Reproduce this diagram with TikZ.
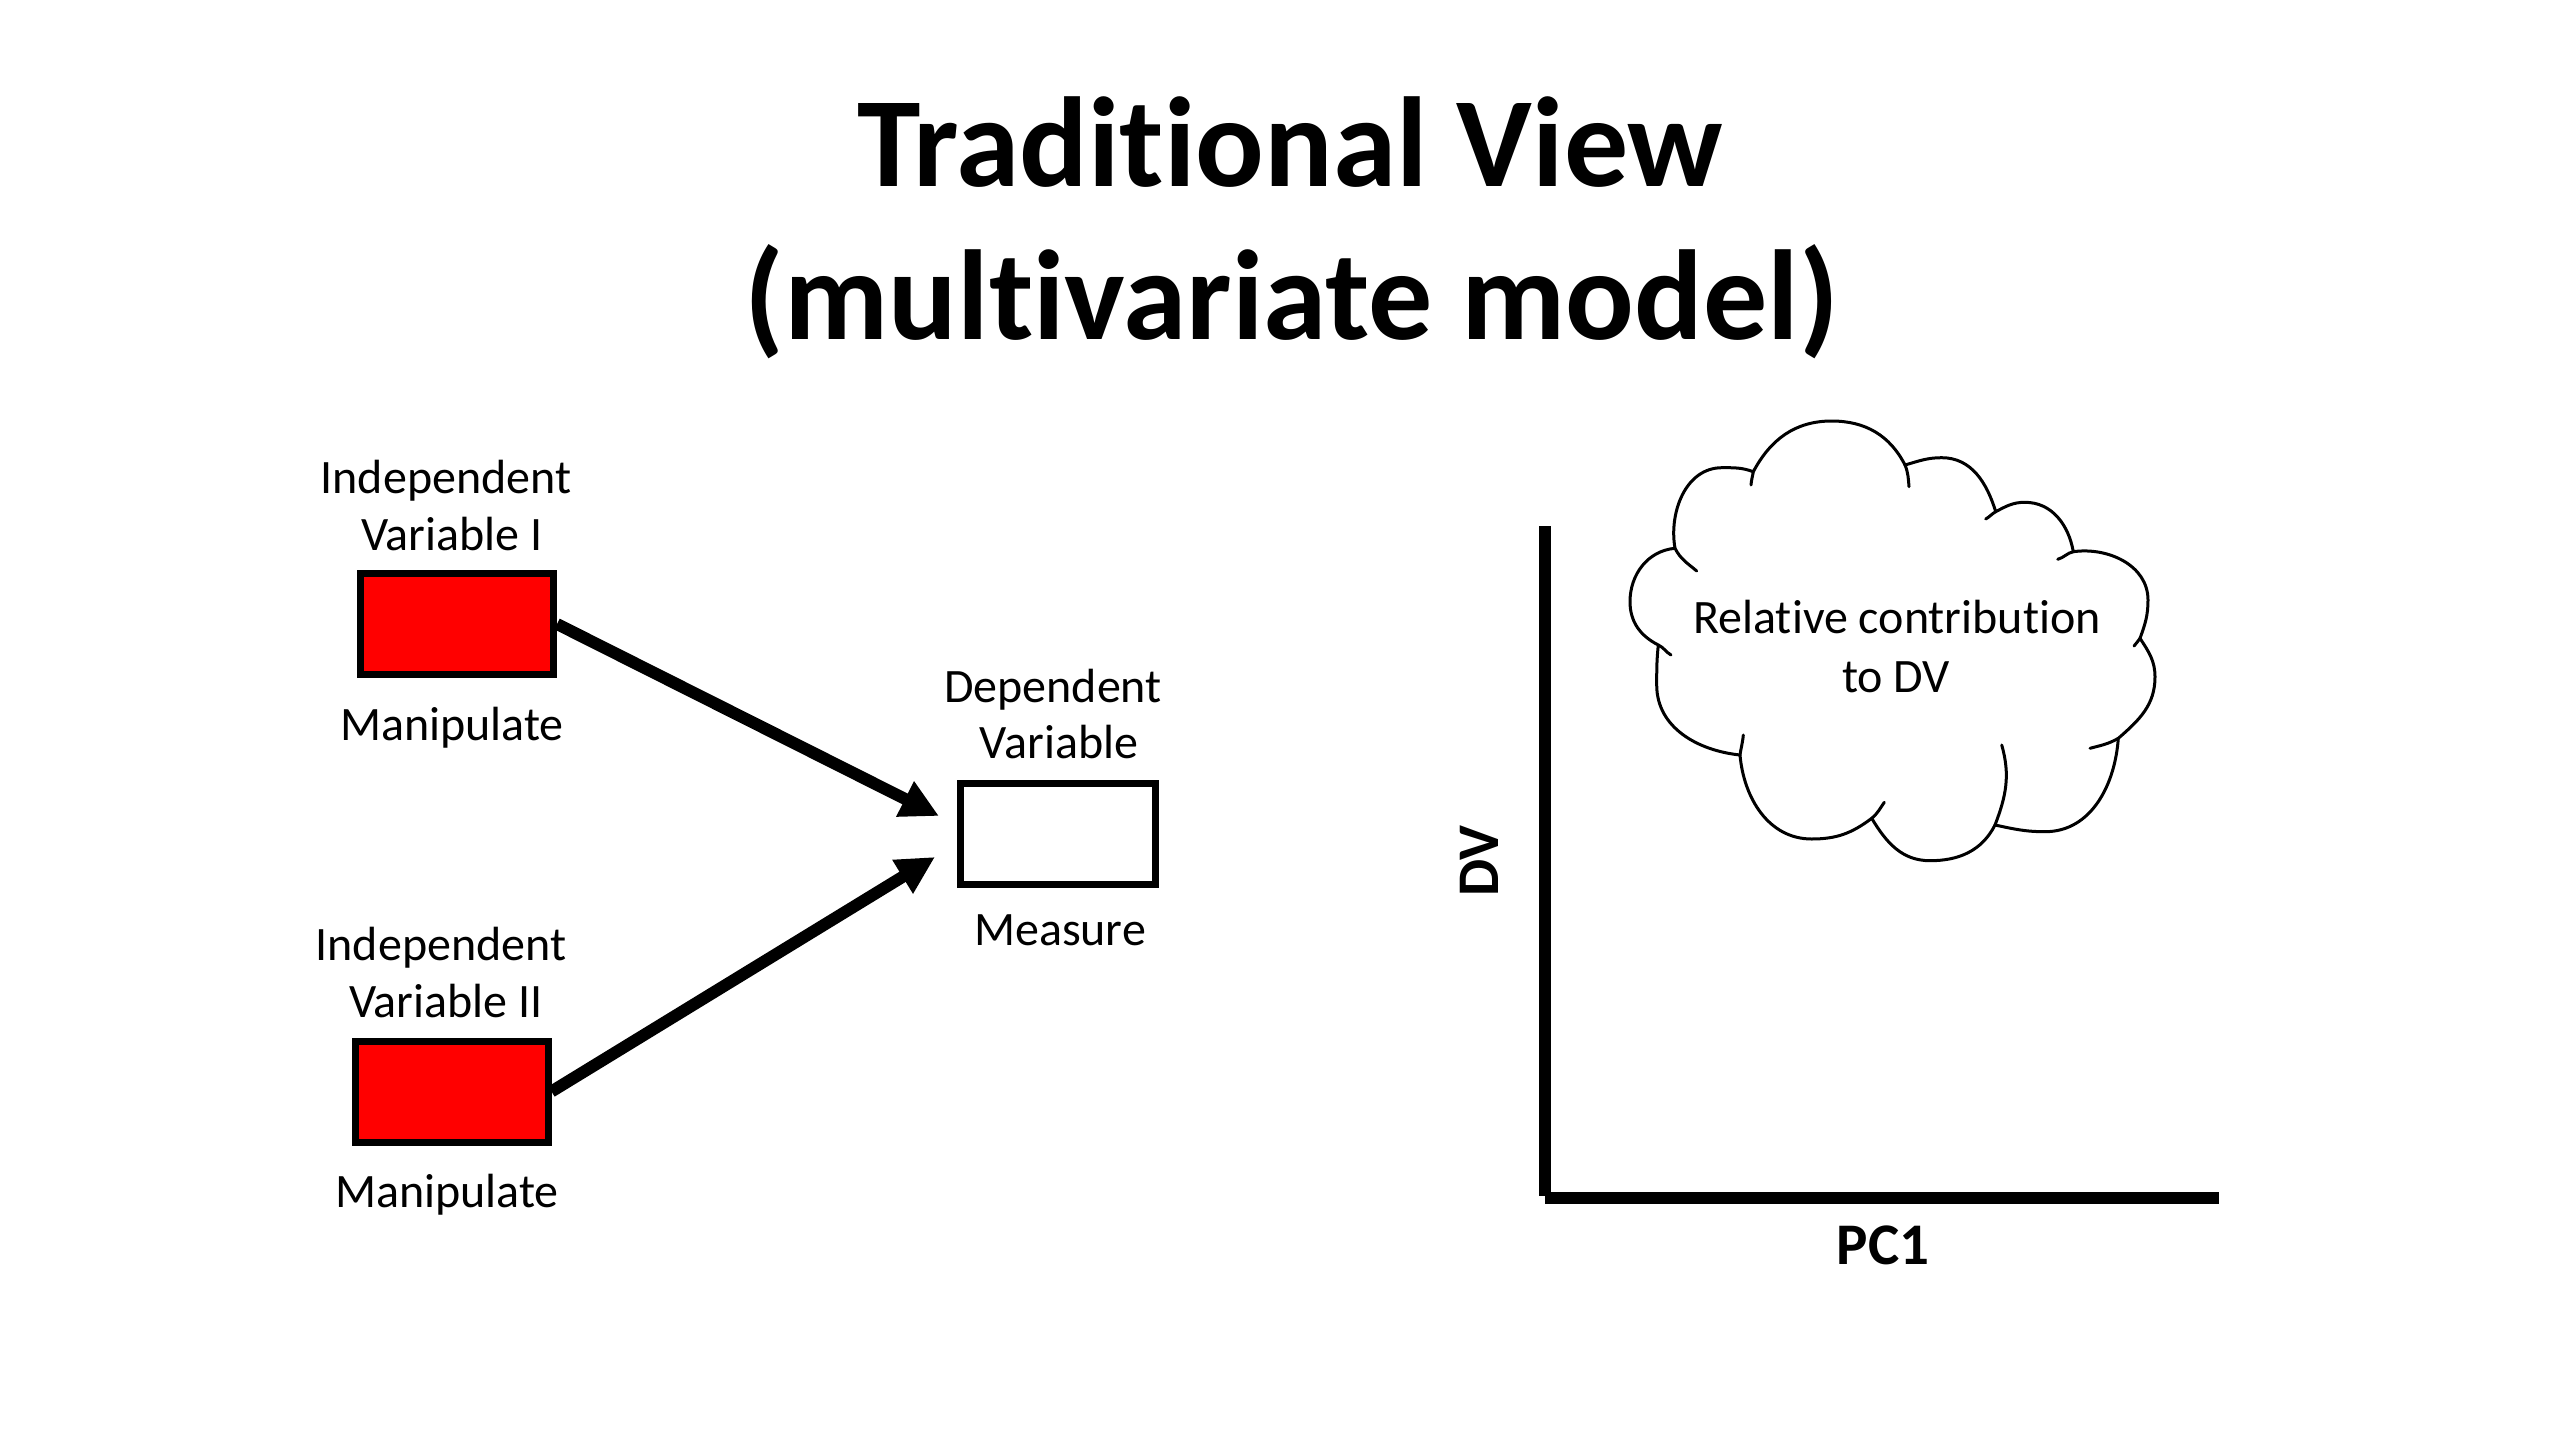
\documentclass[tikz,border=0pt]{standalone}
\usepackage{fontspec}
\setmainfont{Carlito}[RawFeature={-liga;-clig;-dlig}]
\usetikzlibrary{arrows.meta}
\tikzset{
  titletext/.style={font=\fontsize{128}{150}\selectfont\bfseries, inner sep=0pt, anchor=base},
  body/.style={font=\fontsize{48}{57}\selectfont, inner sep=0pt, anchor=base},
  axlabel/.style={font=\fontsize{59}{70}\selectfont\bfseries, inner sep=0pt},
  ivbox/.style={draw=black, line width=7pt, fill=red, minimum width=193pt, minimum height=101pt, inner sep=0pt},
  dvbox/.style={draw=black, line width=7pt, fill=white, minimum width=195pt, minimum height=101pt, inner sep=0pt},
  arr/.style={line width=12pt, -{Triangle[length=38pt,width=37pt]}},
  axisline/.style={line width=12pt, line cap=butt},
  cloudline/.style={line width=3pt, draw=black, line join=round, line cap=round},
}
\begin{document}
\begin{tikzpicture}[x=1pt,y=-1pt]
\useasboundingbox[fill=white] (0,0) rectangle (2560,1440);

% title
\node[titletext] (t1) at (1290,186) {Traditional View};
\node[titletext] (t2) at (1292,339) {(multivariate model)};

% left diagram
\node[ivbox] (iv1) at (457,624) {};
\node[ivbox] (iv2) at (451.5,1091.5) {};
\node[dvbox] (dv) at (1058,834) {};

\node[body] (iv1a) at (446,493) {Independent};
\node[body] (iv1b) at (452,550) {Variable I};
\node[body] (iv1c) at (452,740) {Manipulate};

\node[body] (iv2a) at (441,960) {Independent};
\node[body] (iv2b) at (446,1017) {Variable II};
\node[body] (iv2c) at (447,1207) {Manipulate};

\node[body] (dva) at (1053,702) {Dependent};
\node[body] (dvb) at (1059,758) {Variable};
\node[body] (dvc) at (1060,945) {Measure};

\coordinate (tip1) at (939,816);
\coordinate (tip2) at (935,857);
\draw[arr] (iv1.east) -- (tip1);
\draw[arr] (iv2.east) -- (tip2);

% axes
\coordinate (ytop) at (1545,526);
\coordinate (ybot) at (1545,1196);
\coordinate (xorig) at (1545,1198);
\coordinate (xend) at (2219,1198);
\draw[axisline] (ytop) -- (ybot);
\draw[axisline] (xorig) -- (xend);
\node[axlabel, rotate=90] (dvl) at (1479,861) {DV};
\node[axlabel, anchor=base] (pcl) at (1883,1264) {PC1};

% cloud: junctions of the puffs
\coordinate (j1) at (1675,548.3);
\coordinate (j2) at (1753.3,471.7);
\coordinate (j3) at (1905,465);
\coordinate (j4) at (1995.7,511.7);
\coordinate (j5) at (2073.3,551.7);
\coordinate (j6) at (2140,638.3);
\coordinate (j7) at (2118.3,738.3);
\coordinate (j8) at (1995,825);
\coordinate (j9) at (1871.7,818.3);
\coordinate (j10) at (1740,755);
\coordinate (j11) at (1658.3,645);
% outline
\draw[cloudline, fill=white] (j11)
  to[out=153,in=-90] (1630,601.7) to[out=90,in=185] (j1)
  to[out=100,in=180] (1722,467.7) to[out=0,in=160] (j2)
  to[out=62,in=180] (1831.7,421) to[out=0,in=117] (j3)
  to[out=16,in=180] (1941.7,457.7) to[out=0,in=107] (j4)
  to[out=28,in=180] (2025,502.3) to[out=0,in=100] (j5)
  to[out=8,in=90] (2148,600) to[out=-90,in=70] (j6)
  to[out=-57,in=90] (2155,677) to[out=-90,in=41] (j7)
  to[out=-94,in=0] (2045,831.7) to[out=180,in=-12] (j8)
  to[out=-117,in=0] (1930,860.7) to[out=180,in=-59] (j9)
  to[out=-143,in=0] (1811.7,839) to[out=180,in=-85] (j10)
  to[out=174,in=-90] (1656.7,685) to[out=90,in=-96] (j11)
  -- cycle;
% inner tails of the puffs
\draw[cloudline]
  (j1) to[out=-63,in=140] (1696.7,571)
  (j2) to[out=-100,in=85] (1751,485)
  (j3) to[out=-68,in=95] (1909,486.7)
  (j4) to[out=-150,in=30] (1985.7,519)
  (j5) to[out=192,in=15] (2057.7,559.3)
  (j6) to[out=-115,in=60] (2134,646)
  (j7) to[out=210,in=15] (2090,748.3)
  (j8) to[out=69,in=-74] (2001.7,745)
  (j9) to[out=40,in=-125] (1884.3,802.3)
  (j10) to[out=82,in=-95] (1743.3,735)
  (j11) to[out=-25,in=150] (1671,655);

\node[body] (cl1) at (1897,633) {Relative contribution};
\node[body] (cl2) at (1896,692) {to DV};
\end{tikzpicture}
\end{document}
